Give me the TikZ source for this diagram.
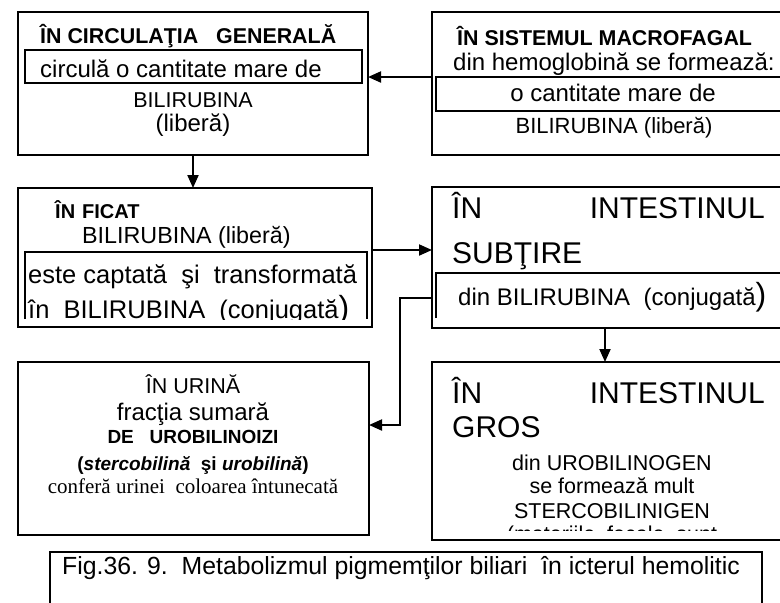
\documentclass[tikz,border=0pt]{standalone}
\usepackage{fontspec}
\setmainfont{Liberation Sans}
\newfontfamily\timesrm{Liberation Serif}
\usetikzlibrary{arrows.meta}

\begin{document}
\begin{tikzpicture}[
  x=1pt, y=-1pt,
  box/.style={draw, line width=2pt, inner sep=0pt, outer sep=0pt, anchor=north west},
  inbox/.style={draw, line width=2pt},
  lbl/.style={inner sep=0pt, font=\fontsize{24}{28}\selectfont},
  wide/.style={inner sep=0pt, font=\fontsize{25.5}{29}\selectfont},
  sml/.style={inner sep=0pt, font=\fontsize{21.5}{25}\selectfont},
  ttl/.style={inner sep=0pt, font=\fontsize{21.4}{25}\selectfont\bfseries},
  bsm/.style={inner sep=0pt, font=\fontsize{19}{23}\selectfont\bfseries},
  big/.style={inner sep=0pt, font=\fontsize{30}{34}\selectfont},
  arr/.style={-{Triangle[length=13pt,width=11pt]}, line width=2pt}
]
\useasboundingbox (0,0) rectangle (780,603);
\clip (0,0) rectangle (780,603);
% boxes
\node[box, minimum width=350pt, minimum height=143pt] (circ) at (18,12) {};
\node[box, minimum width=337pt, minimum height=33pt] (circin) at (25,50) {};
\node[box, minimum width=400pt, minimum height=143pt] (macro) at (432,12) {};
\node[box, minimum width=400pt, minimum height=34pt] (macroin) at (436,77) {};
\node[box, minimum width=354pt, minimum height=139pt] (ficat) at (18,188) {};
\node[box, minimum width=400pt, minimum height=141pt] (subtire) at (432,187) {};
\node[box, minimum width=351pt, minimum height=173pt] (urina) at (18,362) {};
\node[box, minimum width=400pt, minimum height=178pt] (gros) at (432,362) {};
\node[box, minimum width=712pt, minimum height=80pt] (fig) at (50,552) {};
\draw[inbox] (25,319) -- (25,252) -- (367,252) -- (367,319);
\draw[inbox] (436,318) -- (436,273) -- (790,273);
% circulatia generala
\node[ttl, anchor=base west] (circt) at (40,43) {ÎN CIRCULAŢIA\ \ \ GENERALĂ};
\node[lbl, anchor=base west] (circ1) at (40,77) {circulă o cantitate mare de};
\node[sml, anchor=base] (circ2) at (193,107) {BILIRUBINA};
\node[lbl, anchor=base] (circ3) at (193,131) {(liberă)};
% sistemul macrofagal
\node[ttl, anchor=base west] (macrot) at (457,45) {ÎN SISTEMUL MACROFAGAL};
\node[lbl, anchor=base west] (macro1) at (453,70) {din hemoglobină se formează:};
\node[lbl, anchor=base] (macro2) at (613,101) {o cantitate mare de};
\node[inner sep=0pt, font=\fontsize{22}{26}\selectfont, anchor=base] (macro3) at (614,133) {BILIRUBINA (liberă)};
% ficat
\begin{scope}
\clip (18,188) rectangle (372,319);
\node[inner sep=0pt, font=\fontsize{20}{24}\selectfont\bfseries, anchor=base west] (ficatt) at (55,218) {ÎN\hspace{7pt}FICAT};
\node[inner sep=0pt, font=\fontsize{23.3}{27}\selectfont, anchor=base west] (ficat1) at (82,243) {BILIRUBINA (liberă)};
\node[wide, anchor=base west] (ficat2) at (28,283) {este captată\ \ şi\ \ transformată};
\node[wide, anchor=base west] (ficat3) at (28,318) {în\ \ BILIRUBINA\ \ (conjugată{\fontsize{32}{36}\selectfont)}};
\end{scope}
% intestinul subtire
\node[big, anchor=base west] (subt1) at (452,218) {ÎN};
\node[big, anchor=base east] (subt2) at (765,218) {INTESTINUL};
\node[big, anchor=base west] (subt3) at (452,263) {SUBŢIRE};
\node[lbl, anchor=base west] (subt4) at (458,305) {din BILIRUBINA\ \ (conjugată{\fontsize{32}{36}\selectfont)}};
% urina
\node[sml, anchor=base] (ur1) at (193,393) {ÎN URINĂ};
\node[lbl, anchor=base] (ur2) at (193,420) {fracţia sumară};
\node[bsm, anchor=base] (ur3) at (193,443) {DE\ \ \ UROBILINOIZI};
\node[bsm, anchor=base] (ur4) at (193,470) {(\textit{stercobilină}\ \ şi \textit{urobilină})};
\node[inner sep=0pt, font=\fontsize{21}{25}\selectfont\timesrm, anchor=base] (ur5) at (193,493) {conferă urinei\ \ coloarea întunecată};
% intestinul gros
\node[big, anchor=base west] (gros1) at (452,403) {ÎN};
\node[big, anchor=base east] (gros2) at (765,403) {INTESTINUL};
\node[big, anchor=base west] (gros3) at (452,437) {GROS};
\node[sml, anchor=base] (gros4) at (612,470) {din UROBILINOGEN};
\node[sml, anchor=base] (gros5) at (612,493) {se formează mult};
\node[sml, anchor=base] (gros6) at (612,518) {STERCOBILINIGEN};
\begin{scope}
\clip (432,362) rectangle (780,530);
\node[sml, anchor=base] (gros7) at (612,541) {(materiile\ \ fecale\ \ sunt};
\end{scope}
% caption
\node[inner sep=0pt, font=\fontsize{24.8}{29}\selectfont, anchor=base west] (figt) at (62,574) {Fig.36. 9.\ \ Metabolizmul pigmemţilor biliari\ \ în icterul hemolitic};
% connectors
\draw[arr] (macro.west |- macroin.north) -- (circ.east |- macroin.north);
\draw[arr] (circ.south) -- (ficat.north -| circ.south);
\draw[arr] ([yshift=7.5pt]ficat.east) -- ([yshift=7.5pt]ficat.east -| subtire.west);
\draw[arr] ([xshift=-27pt]subtire.south) -- ([xshift=-27pt]gros.north);
\draw[arr] ([yshift=-40.5pt]subtire.west) -- ++(-32,0) |- ([yshift=23.5pt]urina.east);
\end{tikzpicture}
\end{document}
